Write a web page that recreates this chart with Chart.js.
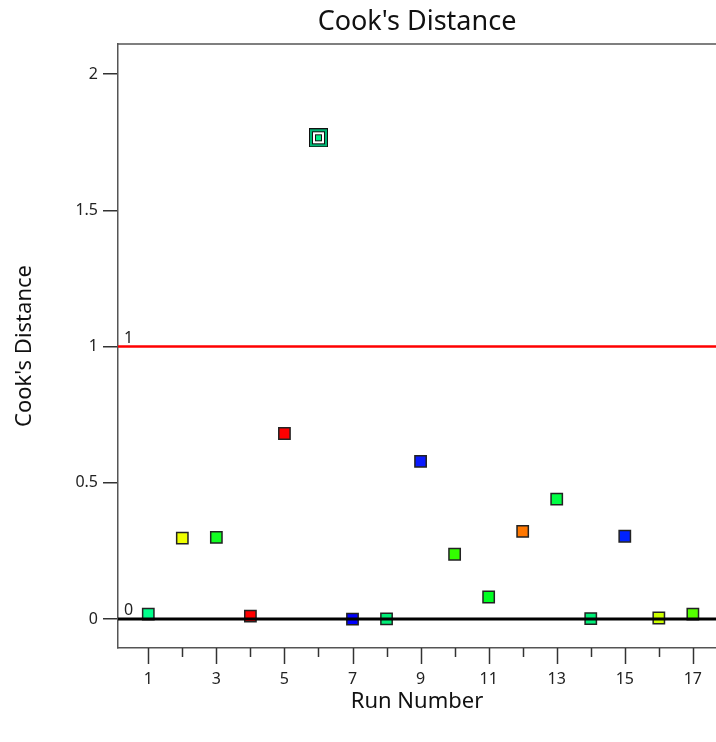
<!DOCTYPE html>
<html>
<head>
<meta charset="utf-8">
<title>Cook's Distance</title>
<script src="https://cdn.jsdelivr.net/npm/chart.js@4.4.1/dist/chart.umd.min.js"></script>
<style>
    html, body { margin: 0; padding: 0; background: #fff; }
    #wrap { width: 716px; height: 742px; }
</style>
</head>
<body>
<div id="wrap"><canvas id="cooks-chart"></canvas></div>
<script>
// run numbers and Cook's distance
const runs = [1, 2, 3, 4, 5, 6, 7, 8, 9, 10, 11, 12, 13, 14, 15, 16, 17];
const cooksD = [0.018, 0.297, 0.300, 0.011, 0.681, 1.766, 0.000, 0.001, 0.579, 0.238, 0.081, 0.322, 0.440, 0.002, 0.304, 0.004, 0.018];
const pointColors = ['#00ff8c', '#eeff00', '#11ff22', '#ff0000', '#ff0000', '#00ee88', '#0000ff', '#00ee77', '#0a1aff',
    '#33ff00', '#00ff22', '#ff7700', '#00ff44', '#00ee77', '#0022ff', '#ccff00', '#55ff00'];
const highlightedRun = 6;
const xTicks = [1, 2, 3, 4, 5, 6, 7, 8, 9, 10, 11, 12, 13, 14, 15, 16, 17];
const xTickLabels = [1, 3, 5, 7, 9, 11, 13, 15, 17];
const yTicks = [0, 0.5, 1, 1.5, 2];
const limitLines = [0, 1];

const FONT = '"Noto Sans", "Open Sans", sans-serif';

// the flagged run gets the double square marker
function flaggedMarker() {
    const c = document.createElement('canvas');
    c.width = 19;
    c.height = 19;
    const g = c.getContext('2d');
    g.fillStyle = '#111'; g.fillRect(0, 0, 19, 19);
    g.fillStyle = '#00b574'; g.fillRect(1, 1, 17, 17);
    g.fillStyle = '#111'; g.fillRect(3, 3, 13, 13);
    g.fillStyle = '#fff'; g.fillRect(4, 4, 11, 11);
    g.fillStyle = '#111'; g.fillRect(6, 6, 7, 7);
    g.fillStyle = '#00ee88'; g.fillRect(7, 7, 5, 5);
    return c;
}
const marker = flaggedMarker();

const framePlugin = {
    id: 'frame',
    afterDatasetsDraw(chart) {
        const { ctx, chartArea: a, scales: { x, y } } = chart;
        ctx.save();

        // top edge of the frame
        ctx.strokeStyle = '#555';
        ctx.lineWidth = 1.5;
        ctx.beginPath();
        ctx.moveTo(a.left, a.top);
        ctx.lineTo(a.right, a.top);
        ctx.stroke();

        // reference lines at 0 and 1
        limitLines.forEach(v => {
            const py = y.getPixelForValue(v);
            ctx.strokeStyle = v === 0 ? '#000' : '#ff0000';
            ctx.lineWidth = v === 0 ? 3 : 2.5;
            ctx.beginPath();
            ctx.moveTo(a.left, py);
            ctx.lineTo(a.right, py);
            ctx.stroke();
            ctx.fillStyle = '#222';
            ctx.font = '16px ' + FONT;
            ctx.textAlign = 'left';
            ctx.textBaseline = 'alphabetic';
            ctx.fillText(String(v), a.left + 6, py - 4);
        });

        // x tick marks, long on labelled runs
        ctx.strokeStyle = '#333';
        ctx.lineWidth = 1.5;
        xTicks.forEach(v => {
            const px = Math.round(x.getPixelForValue(v)) + 0.5;
            const len = xTickLabels.includes(v) ? 16 : 9;
            ctx.beginPath();
            ctx.moveTo(px, a.bottom);
            ctx.lineTo(px, a.bottom + len);
            ctx.stroke();
        });

        ctx.restore();
    }
};

const ctx = document.getElementById('cooks-chart').getContext('2d');
new Chart(ctx, {
    type: 'scatter',
    data: {
        datasets: [{
            label: "Cook's Distance",
            data: runs.map((r, i) => ({ x: r, y: cooksD[i] })),
            backgroundColor: pointColors,
            borderColor: '#222',
            borderWidth: 1.5,
            pointStyle: runs.map(r => r === highlightedRun ? marker : 'rect'),
            pointRadius: 8,
            pointHoverRadius: 8
        }]
    },
    options: {
        responsive: true,
        maintainAspectRatio: false,
        animation: false,
        layout: { padding: 0, autoPadding: false },
        plugins: {
            legend: { display: false },
            tooltip: { enabled: false },
            title: {
                display: true,
                fullSize: false,
                text: "Cook's Distance",
                color: '#111',
                font: { family: FONT, size: 27, weight: 'normal' },
                padding: { top: 6, bottom: 5.6 }
            }
        },
        scales: {
            x: {
                type: 'linear',
                min: 0.11,
                max: 17.68,
                afterBuildTicks: s => { s.ticks = xTickLabels.map(v => ({ value: v })); },
                afterFit: s => { s.height = 94; s.paddingLeft = 0; s.paddingRight = 0; },
                grid: { display: false, drawTicks: false },
                border: { display: true, color: '#555', width: 1.5 },
                ticks: {
                    color: '#222',
                    padding: 22,
                    maxRotation: 0,
                    autoSkip: false,
                    font: { family: FONT, size: 16 }
                },
                title: {
                    display: true,
                    text: 'Run Number',
                    color: '#111',
                    font: { family: FONT, size: 22 },
                    padding: { top: 27, bottom: 27 }
                }
            },
            y: {
                min: -0.106,
                max: 2.11,
                afterBuildTicks: s => { s.ticks = yTicks.map(v => ({ value: v })); },
                afterFit: s => { s.width = 118; },
                grid: { drawOnChartArea: false, drawTicks: true, tickLength: 15, color: '#333', lineWidth: 1.5 },
                border: { display: true, color: '#555', width: 1.5 },
                ticks: {
                    color: '#222',
                    padding: 5,
                    autoSkip: false,
                    font: { family: FONT, size: 16 },
                    callback: v => String(v)
                },
                title: {
                    display: true,
                    text: "Cook's Distance",
                    color: '#111',
                    font: { family: FONT, size: 22 },
                    padding: { top: 12, bottom: 12 }
                }
            }
        }
    },
    plugins: [framePlugin]
});
</script>
</body>
</html>
